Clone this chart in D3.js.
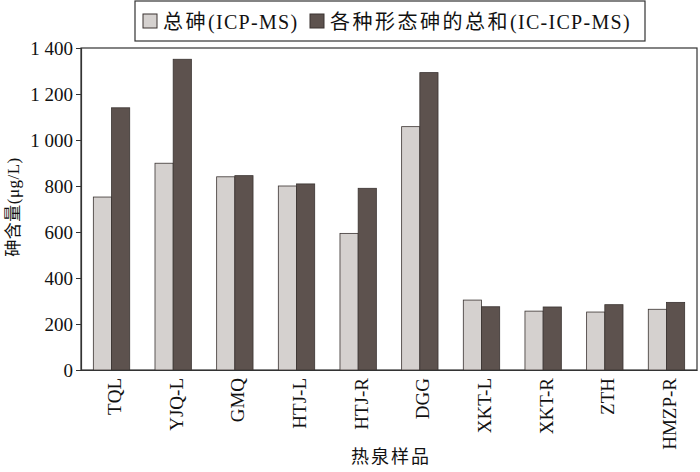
<html>
<style>
body { margin: 0; background: #fff; }
text { font-family: "Liberation Serif", "Noto Sans CJK SC", serif; fill: #111; }
</style>
<body>
<script src="https://d3js.org/d3.v7.min.js"></script>
<script>

var width = 700,
    height = 472,
    margin = {top: 48, right: 3, bottom: 102, left: 81};

var samples = ["TQL", "YJQ-L", "GMQ", "HTJ-L", "HTJ-R", "DGG", "XKT-L", "XKT-R", "ZTH", "HMZP-R"];
var totalAs = [752, 899, 840, 800, 594, 1058, 304, 256, 252, 264];
var speciesSum = [1140, 1351, 845, 809, 790, 1293, 275, 274, 284, 294];
var legendCn = ["总砷", "各种形态砷的总和"];
var legendEn = ["(ICP-MS)", "(IC-ICP-MS)"];
var seriesColors = ["#d5d1cf", "#5d524e"];
var yTicks = [0, 200, 400, 600, 800, 1000, 1200, 1400];

var plotW = width - margin.left - margin.right,
    plotH = height - margin.top - margin.bottom;

var fmt = d3.formatLocale({decimal: ".", thousands: " ", grouping: [3], currency: ["", ""]}).format(",d");

var x = d3.scaleBand()
    .domain(samples)
    .range([0, plotW])
    .paddingInner(0.41)
    .paddingOuter(0.2);

var x1 = d3.scaleBand()
    .domain([0, 1])
    .range([0, x.bandwidth()]);

var y = d3.scaleLinear()
    .domain([0, 1400])
    .range([plotH, 0]);

var svg = d3.select("body").append("svg")
    .attr("width", width)
    .attr("height", height);

var g = svg.append("g")
    .attr("transform", "translate(" + margin.left + "," + margin.top + ")");

// frame
g.append("rect")
    .attr("width", plotW)
    .attr("height", plotH)
    .attr("fill", "none")
    .attr("stroke", "#333")
    .attr("stroke-width", 1.2);

var rows = samples.map(function(s, i) { return {name: s, vals: [totalAs[i], speciesSum[i]]}; });

var groups = g.selectAll(".grp")
    .data(rows)
    .enter().append("g")
    .attr("transform", d => "translate(" + x(d.name) + ",0)");

groups.selectAll("rect")
    .data(d => d.vals)
    .enter().append("rect")
    .attr("x", (d, i) => x1(i))
    .attr("y", d => y(d))
    .attr("width", x1.bandwidth())
    .attr("height", d => plotH - y(d))
    .attr("fill", (d, i) => seriesColors[i])
    .attr("stroke", "#3a3331")
    .attr("stroke-width", 0.8);

// y axis
var yAxis = g.append("g")
    .call(d3.axisLeft(y).tickValues(yTicks).tickFormat(fmt).tickSize(5).tickPadding(3));
yAxis.select(".domain").attr("stroke", "#333").attr("stroke-width", 1.2);
yAxis.selectAll(".tick line").attr("stroke", "#333");
yAxis.selectAll("text").style("font-size", "19px").attr("fill", "#111");

// x axis
var xAxis = g.append("g")
    .attr("transform", "translate(0," + plotH + ")")
    .call(d3.axisBottom(x).tickSize(0).tickPadding(0));
xAxis.select(".domain").attr("stroke", "#333").attr("stroke-width", 1.2);
xAxis.selectAll("text")
    .style("font-size", "19px")
    .attr("fill", "#111")
    .attr("text-anchor", "end")
    .attr("dy", null)
    .attr("transform", "translate(9.5,8) rotate(-90)");

// axis titles
svg.append("text")
    .attr("transform", "translate(19,207) rotate(-90)")
    .attr("text-anchor", "middle")
    .style("font-size", "17px")
    .style("letter-spacing", "0.5px")
    .text("砷含量(μg/L)");

svg.append("text")
    .attr("x", 391)
    .attr("y", 463)
    .attr("text-anchor", "middle")
    .style("font-size", "18px")
    .style("letter-spacing", "2px")
    .text("热泉样品");

// legend
var lg = svg.append("g").attr("transform", "translate(135,1)");
lg.append("rect")
    .attr("width", 510)
    .attr("height", 40)
    .attr("fill", "#fff")
    .attr("stroke", "#333")
    .attr("stroke-width", 1.2);

var lx = [8, 175];
legendCn.forEach(function(n, i) {
  lg.append("rect")
      .attr("x", lx[i])
      .attr("y", 13)
      .attr("width", 14)
      .attr("height", 14)
      .attr("fill", seriesColors[i])
      .attr("stroke", "#3a3331");
  var t = lg.append("text")
      .attr("x", lx[i] + 20)
      .attr("y", 28)
      .style("font-size", "20px");
  t.append("tspan").style("letter-spacing", "2.5px").text(n);
  t.append("tspan").style("letter-spacing", "1.3px").text(legendEn[i]);
});

</script>
</body>
</html>
